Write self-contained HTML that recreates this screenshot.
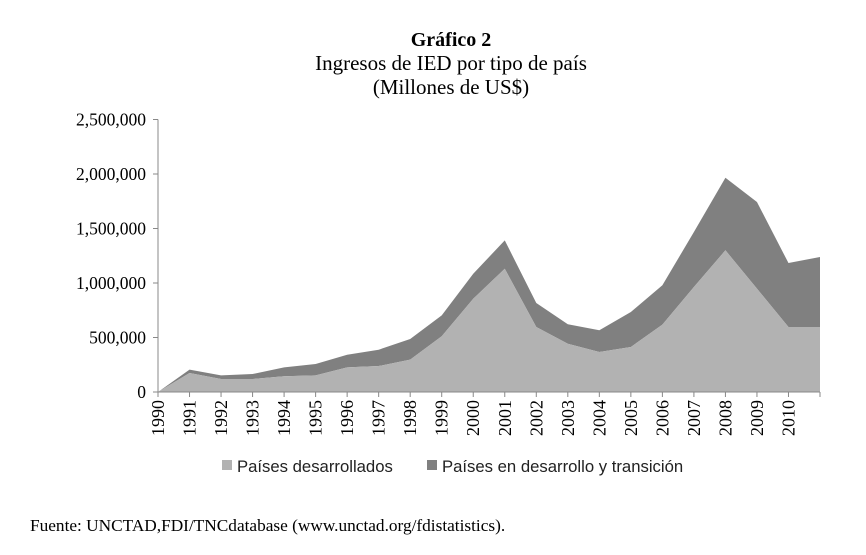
<!DOCTYPE html>
<html><head><meta charset="utf-8"><style>
body{margin:0;background:#fff;}
svg{display:block;}
</style></head><body>
<svg width="866" height="555" viewBox="0 0 866 555" id="chart">
<text x="451" y="46" text-anchor="middle" font-family="Liberation Serif, serif" font-weight="bold" font-size="20">Gráfico 2</text>
<text x="451" y="70" text-anchor="middle" font-family="Liberation Serif, serif" font-size="21">Ingresos de IED por tipo de país</text>
<text x="451" y="94" text-anchor="middle" font-family="Liberation Serif, serif" font-size="21">(Millones de US$)</text>
<g id="plot"></g>
<g>
<rect x="222" y="460" width="10" height="10" fill="#b2b2b2"/>
<text x="237" y="472" font-family="Liberation Sans, sans-serif" font-size="16.7" fill="#222">Países desarrollados</text>
<rect x="427" y="460" width="10" height="10" fill="#808080"/>
<text x="442" y="472" font-family="Liberation Sans, sans-serif" font-size="16.7" fill="#222">Países en desarrollo y transición</text>
</g>
<text x="30" y="531" font-family="Liberation Serif, serif" font-size="17.3">Fuente: UNCTAD,FDI/TNCdatabase (www.unctad.org/fdistatistics).</text>
</svg>
<script>
const years = [1990,1991,1992,1993,1994,1995,1996,1997,1998,1999,2000,2001,2002,2003,2004,2005,2006,2007,2008,2009,2010,2011];
const developed = [0,174000,119000,119000,144000,153000,226000,238000,297000,511000,856000,1131000,596000,443000,367000,413000,618000,963000,1300000,948000,596000,596000];
const developing = [0,31000,34000,46000,82000,104000,116000,150000,189000,192000,229000,260000,221000,178000,199000,321000,361000,505000,666000,795000,587000,643000];
const yTicks = [0,500000,1000000,1500000,2000000,2500000];
const yTickLabels = ["0","500,000","1,000,000","1,500,000","2,000,000","2,500,000"];
const xLabels = ["1990","1991","1992","1993","1994","1995","1996","1997","1998","1999","2000","2001","2002","2003","2004","2005","2006","2007","2008","2009","2010"];

const X0=158, X1=820, Y0=392, Y1=119.5, YMAX=2500000;
const xs = i => X0 + (X1-X0)*i/(years.length-1);
const ys = v => Y0 - (Y0-Y1)*v/YMAX;
const NS="http://www.w3.org/2000/svg";
const plotG=document.getElementById('plot');
function mk(t,a){const e=document.createElementNS(NS,t);for(const k in a)e.setAttribute(k,a[k]);plotG.appendChild(e);return e;}

const totals = developed.map((d,i)=>d+developing[i]);
let upperPath="", lowerPath="";
years.forEach((y,i)=>{upperPath+=(i?"L":"M")+xs(i)+","+ys(totals[i])+" ";});
for(let i=years.length-1;i>=0;i--) lowerPath+="L"+xs(i)+","+ys(developed[i])+" ";
const a2=mk('path',{d:upperPath+lowerPath+"Z",fill:"#808080"});


let d1="M"+xs(0)+","+Y0+" ";
years.forEach((y,i)=>{d1+="L"+xs(i)+","+ys(developed[i])+" ";});
d1+="L"+xs(years.length-1)+","+Y0+" Z";
const a1=mk('path',{d:d1,fill:"#b2b2b2"});



const ya=mk('line',{x1:X0,y1:Y1,x2:X0,y2:Y0,stroke:"#888","stroke-width":1});


const xa=mk('line',{x1:X0,y1:Y0,x2:X1,y2:Y0,stroke:"#888","stroke-width":1});



yTicks.forEach((v,i)=>{
  const tk=mk('line',{x1:X0-5,y1:ys(v),x2:X0,y2:ys(v),stroke:"#888"});
  
  
  const t=mk('text',{x:X0-12,y:ys(v)+6,"text-anchor":"end","font-family":"Liberation Serif, serif","font-size":"17.5"});
  t.textContent=yTickLabels[i];
  
  
});
years.forEach((y,i)=>{
  const tk=mk('line',{x1:xs(i),y1:Y0,x2:xs(i),y2:Y0+5,stroke:"#888"});
  
  
});
xLabels.forEach((l,i)=>{
  const x=xs(i)+6, y=Y0+8;
  const t=mk('text',{x:x,y:y,transform:`rotate(-90 ${x} ${y})`,"text-anchor":"end","font-family":"Liberation Serif, serif","font-size":"18"});
  t.textContent=l;
  
  
});
</script>
</body></html>
